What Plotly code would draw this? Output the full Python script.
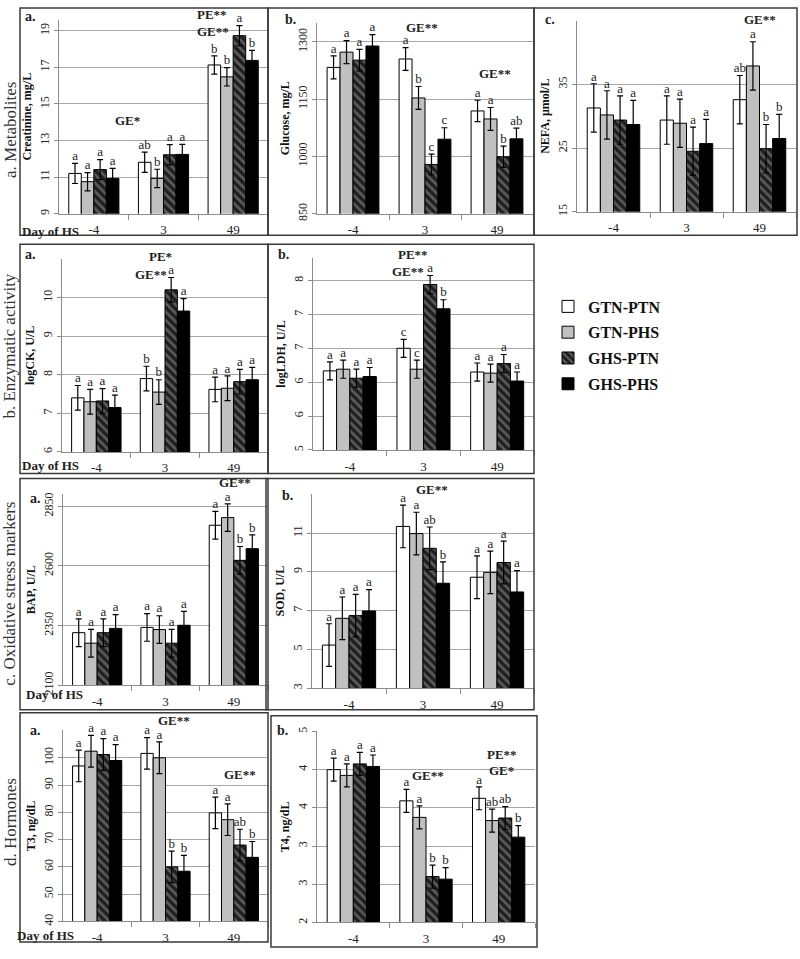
import plotly.graph_objects as go

W, H = 800, 959
FONT = "'Liberation Serif', 'Times New Roman', Times, serif"

days = ["-4", "3", "49"]
groups = ["GTN-PTN", "GTN-PHS", "GHS-PTN", "GHS-PHS"]

# values: one row per group, columns = days (-4, 3, 49)
creatinine = [[11.2, 11.81, 17.13], [10.75, 10.93, 16.48], [11.41, 12.22, 18.73], [10.93, 12.24, 17.38]]
creatinine_err = [[0.55, 0.55, 0.5], [0.5, 0.5, 0.5], [0.55, 0.55, 0.55], [0.55, 0.55, 0.55]]
creatinine_let = [["a", "ab", "b"], ["a", "b", "b"], ["a", "a", "a"], ["a", "a", "b"]]

glucose = [[1233, 1255, 1119], [1273, 1153, 1098], [1252, 979, 999], [1289, 1045, 1046]]
glucose_err = [[30, 30, 28], [30, 30, 30], [28, 27, 28], [30, 30, 28]]
glucose_let = [["a", "a", "a"], ["a", "b", "a"], ["a", "c", "b"], ["a", "c", "ab"]]

nefa = [[31.3, 29.4, 32.6], [30.2, 28.9, 37.9], [29.4, 24.5, 24.9], [28.7, 25.7, 26.5]]
nefa_err = [[3.8, 3.8, 3.8], [3.8, 3.8, 3.8], [3.8, 3.8, 3.8], [3.8, 3.8, 3.8]]
nefa_let = [["a", "a", "ab"], ["a", "a", "a"], ["a", "a", "b"], ["a", "a", "b"]]

logck = [[7.4, 7.9, 7.62], [7.3, 7.55, 7.65], [7.32, 10.2, 7.82], [7.15, 9.65, 7.87]]
logck_err = [[0.32, 0.32, 0.32], [0.32, 0.32, 0.32], [0.32, 0.32, 0.32], [0.32, 0.32, 0.32]]
logck_let = [["a", "b", "a"], ["a", "b", "a"], ["a", "a", "a"], ["a", "a", "a"]]

logldh = [[6.40, 6.80, 6.38], [6.43, 6.43, 6.36], [6.27, 7.93, 6.53], [6.30, 7.50, 6.22]]
logldh_err = [[0.16, 0.16, 0.16], [0.16, 0.16, 0.16], [0.16, 0.16, 0.16], [0.16, 0.16, 0.16]]
logldh_let = [["a", "c", "a"], ["a", "c", "a"], ["a", "a", "a"], ["a", "b", "a"]]

bap = [[2320, 2342, 2770], [2276, 2333, 2802], [2320, 2276, 2623], [2338, 2351, 2672]]
bap_err = [[58, 58, 58], [58, 58, 58], [58, 58, 58], [58, 58, 58]]
bap_let = [["a", "a", "a"], ["a", "a", "a"], ["a", "a", "b"], ["a", "a", "b"]]

sod = [[5.22, 11.34, 8.72], [6.60, 10.97, 8.97], [6.74, 10.21, 9.48], [6.98, 8.41, 7.96]]
sod_err = [[1.1, 1.1, 1.1], [1.1, 1.1, 1.1], [1.1, 1.1, 1.1], [1.1, 1.1, 1.1]]
sod_let = [["a", "a", "a"], ["a", "a", "a"], ["a", "ab", "a"], ["a", "b", "a"]]

t3 = [[97.0, 101.6, 79.8], [102.4, 100.0, 77.3], [101.2, 60.0, 68.0], [99.0, 58.4, 63.5]]
t3_err = [[5.8, 5.8, 5.8], [5.8, 5.8, 5.8], [5.8, 5.8, 5.8], [5.8, 5.8, 5.8]]
t3_let = [["a", "a", "a"], ["a", "a", "a"], ["a", "b", "ab"], ["a", "b", "b"]]

t4 = [[4.40, 3.91, 3.95], [4.31, 3.65, 3.60], [4.49, 2.72, 3.64], [4.45, 2.68, 3.34]]
t4_err = [[0.18, 0.18, 0.18], [0.18, 0.18, 0.18], [0.18, 0.18, 0.18], [0.18, 0.18, 0.18]]
t4_let = [["a", "a", "a"], ["a", "a", "ab"], ["a", "b", "ab"], ["a", "b", "b"]]

# y tick values / labels
creat_ticks = [9, 11, 13, 15, 17, 19]
gluc_ticks = [850, 1000, 1150, 1300]
nefa_ticks = [15, 25, 35]
ck_ticks = [6, 7, 8, 9, 10]
ldh_ticks = [5, 5.6, 6.2, 6.8, 7.4, 8.0]
ldh_labels = ["5", "6", "6", "7", "7", "8"]
bap_ticks = [2100, 2350, 2600, 2850]
sod_ticks = [3, 5, 7, 9, 11]
t3_ticks = [40, 50, 60, 70, 80, 90, 100]
t4_ticks = [2, 2.6, 3.2, 3.8, 4.4, 5.0]
t4_labels = ["2", "3", "3", "4", "4", "5"]


def pxx(x):
    return x / W


def pyy(y):
    return 1 - y / H


panels = [
    dict(m=creatinine, e=creatinine_err, l=creatinine_let, title="Creatinine, mg/L", box=(59, 15, 268, 212), rng=[9, 19.6], tv=creat_ticks, tt=None),
    dict(m=glucose, e=glucose_err, l=glucose_let, title="Glucose, mg/L", box=(317, 18, 533, 212), rng=[850, 1350], tv=gluc_ticks, tt=None),
    dict(m=nefa, e=nefa_err, l=nefa_let, title="NEFA, μmol/L", box=(577, 16, 796, 210), rng=[15, 45], tv=nefa_ticks, tt=None),
    dict(m=logck, e=logck_err, l=logck_let, title="logCK, U/L", box=(62, 258, 268, 454), rng=[6, 11], tv=ck_ticks, tt=None),
    dict(m=logldh, e=logldh_err, l=logldh_let, title="logLDH, U/L", box=(313, 257, 534, 452), rng=[5, 8.4], tv=ldh_ticks, tt=ldh_labels),
    dict(m=bap, e=bap_err, l=bap_let, title="BAP, U/L", box=(63, 497, 268, 691), rng=[2100, 2900], tv=bap_ticks, tt=None),
    dict(m=sod, e=sod_err, l=sod_let, title="SOD, U/L", box=(312, 497, 534, 694), rng=[3, 13], tv=sod_ticks, tt=None),
    dict(m=t3, e=t3_err, l=t3_let, title="T3, ng/dL", box=(63, 737, 268, 931), rng=[40, 110], tv=t3_ticks, tt=None),
    dict(m=t4, e=t4_err, l=t4_let, title="T4, ng/dL", box=(317, 738, 535, 932), rng=[2, 5], tv=t4_ticks, tt=t4_labels),
]

offsets = [-0.27, -0.09, 0.09, 0.27]
bw = 0.18
styles = [
    dict(color="white"),
    dict(color="#c0c0c0"),
    dict(color="#1e1e1e", pattern=dict(shape="\\", fgcolor="#9a9a9a", bgcolor="#1e1e1e", size=6, solidity=0.45)),
    dict(color="black"),
]

fig = go.Figure()
layout = dict(
    width=W, height=H, margin=dict(l=0, r=0, t=0, b=0),
    paper_bgcolor="white", plot_bgcolor="white",
    font=dict(family=FONT, color="#222", size=12),
    barmode="overlay", showlegend=True, hovermode=False,
)

xi = list(range(len(days)))
for p, pan in enumerate(panels):
    k = p + 1
    xa = "x" if k == 1 else f"x{k}"
    ya = "y" if k == 1 else f"y{k}"
    for g in range(4):
        st = styles[g]
        marker = dict(color=st["color"], line=dict(color="black", width=1))
        if "pattern" in st:
            marker["pattern"] = st["pattern"]
        fig.add_trace(go.Bar(
            x=xi, y=pan["m"][g], width=bw, offset=offsets[g] - bw / 2,
            marker=marker, name=groups[g], legendgroup=groups[g], showlegend=(p == 0),
            error_y=dict(type="data", array=pan["e"][g], color="black", thickness=1.2, width=3),
            xaxis=xa, yaxis=ya, hoverinfo="skip",
        ))
        fig.add_trace(go.Scatter(
            x=[i + offsets[g] for i in xi],
            y=[m + e for m, e in zip(pan["m"][g], pan["e"][g])],
            text=pan["l"][g], mode="text", textposition="top center",
            textfont=dict(family=FONT, size=13, color="#222"),
            showlegend=False, cliponaxis=False, xaxis=xa, yaxis=ya, hoverinfo="skip",
        ))
    x0, y0, x1, y1 = pan["box"]
    xname = "xaxis" if k == 1 else f"xaxis{k}"
    yname = "yaxis" if k == 1 else f"yaxis{k}"
    layout[xname] = dict(
        domain=[pxx(x0), pxx(x1)], anchor=ya, range=[-0.5, 2.5],
        tickvals=xi, ticktext=days, ticks="", showgrid=False, zeroline=False,
        showline=True, linecolor="#8c8c8c", linewidth=1,
        tickfont=dict(family=FONT, size=13, color="#222"), ticklabelstandoff=4,
        minor=dict(tickvals=[0.5, 1.5, 2.5], ticks="outside", ticklen=5, tickcolor="#8c8c8c"),
    )
    ykw = dict(
        domain=[pyy(y1), pyy(y0)], anchor=xa, range=pan["rng"], tickvals=pan["tv"],
        tickangle=-90, showgrid=True, gridcolor="#a6a6a6", gridwidth=1, zeroline=False,
        showline=True, linecolor="#8c8c8c", linewidth=1, ticks="outside", ticklen=4, tickcolor="#8c8c8c",
        tickfont=dict(family=FONT, size=12, color="#222"),
        title=dict(text=pan["title"], font=dict(family=FONT, size=12, color="#111", weight="bold"), standoff=3),
    )
    if pan["tt"] is not None:
        ykw["ticktext"] = pan["tt"]
    layout[yname] = ykw

# frames
frames = [
    (20, 3, 268, 234), (268, 3, 534, 234), (534, 3, 797, 234),
    (20, 243, 268, 476), (268, 243, 534, 476),
    (20, 481, 268, 716), (266, 481, 534, 716),
    (20, 719, 268, 952), (271, 722, 537, 957),
]
shapes = []
for (a, b, c, d) in frames:
    shapes.append(dict(type="rect", xref="paper", yref="paper", x0=pxx(a), x1=pxx(c), y0=pyy(d), y1=pyy(b),
                       line=dict(color="#3a3a3a", width=1.5), fillcolor="rgba(0,0,0,0)", layer="above"))
layout["shapes"] = shapes

ann = []


def note(text, x, y, size=13, bold=True, angle=0, color="#222"):
    ann.append(dict(text=text, x=pxx(x), y=pyy(y), xref="paper", yref="paper", showarrow=False,
                    xanchor="center", yanchor="middle", textangle=angle,
                    font=dict(family=FONT, size=size, color=color, weight="bold" if bold else "normal")))


# row labels
note("a. Metabolites", 10, 127, size=17, bold=False, angle=-90, color="#333")
note("b. Enzymatic activity", 10, 347, size=17, bold=False, angle=-90, color="#333")
note("c. Oxidative stress markers", 10, 598, size=17, bold=False, angle=-90, color="#333")
note("d. Hormones", 10, 830, size=17, bold=False, angle=-90, color="#333")

# panel letters
for t, x, y in [("a.", 30, 12), ("b.", 290, 15), ("c.", 550, 15), ("a.", 30, 253), ("b.", 283, 253),
                ("a.", 35, 501), ("b.", 287, 498), ("a.", 35, 737), ("b.", 282, 737)]:
    note(t, x, y, size=14)

# Day of HS
for x, y in [(50, 230), (50, 468), (54, 700), (45, 945)]:
    note("Day of HS", x, y, size=13)

# effects
for t, x, y in [("GE*", 127, 117), ("PE**", 212, 10), ("GE**", 213, 27),
                ("GE**", 422, 23), ("GE**", 495, 70), ("GE**", 760, 15),
                ("PE*", 160, 256), ("GE**", 151, 274), ("PE**", 413, 253), ("GE**", 408, 271),
                ("GE**", 235, 485), ("GE**", 432, 492),
                ("GE**", 174, 727), ("GE**", 240, 782), ("GE**", 428, 783), ("PE**", 502, 761), ("GE*", 502, 778)]:
    note(t, x, y, size=13)
layout["annotations"] = ann

layout["legend"] = dict(x=pxx(548), y=pyy(289), xanchor="left", yanchor="top",
                        font=dict(family=FONT, size=16, color="#111", weight="bold"),
                        bgcolor="rgba(0,0,0,0)", tracegroupgap=2, itemwidth=30)

fig.update_layout(**layout)
fig.write_html("out.html", config={"displayModeBar": False, "staticPlot": True},
               post_script="document.body.style.margin='0px';document.body.style.padding='0px';")
